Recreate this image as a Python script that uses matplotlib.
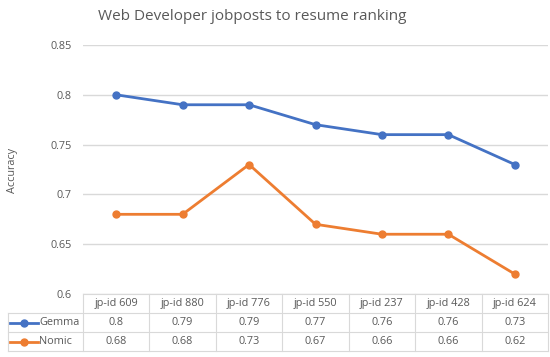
import matplotlib
matplotlib.use("Agg")
import matplotlib.pyplot as plt
from matplotlib.ticker import FuncFormatter
from matplotlib.lines import Line2D

plt.rcParams['font.family'] = ['Open Sans', 'DejaVu Sans']

# data
jobposts = ["jp-id 609", "jp-id 880", "jp-id 776", "jp-id 550", "jp-id 237", "jp-id 428", "jp-id 624"]
gemma = [0.8, 0.79, 0.79, 0.77, 0.76, 0.76, 0.73]
nomic = [0.68, 0.68, 0.73, 0.67, 0.66, 0.66, 0.62]
series_names = ["Gemma", "Nomic"]
yticks = [0.6, 0.65, 0.7, 0.75, 0.8, 0.85]

BLUE = "#4472C4"
ORANGE = "#ED7D31"
GRID = "#D9D9D9"
TXT = "#595959"

W, H = 550, 357
fig = plt.figure(figsize=(W / 100, H / 100), dpi=100)

# plot area in pixels
x0, x1 = 83, 548
ytop, ybot = 45, 294
ax = fig.add_axes([x0 / W, (H - ybot) / H, (x1 - x0) / W, (ybot - ytop) / H])

xs = list(range(len(jobposts)))
ax.plot(xs, gemma, color=BLUE, lw=2.0, marker="o", ms=5, zorder=3)
ax.plot(xs, nomic, color=ORANGE, lw=2.0, marker="o", ms=5, zorder=3)

ax.set_xlim(-0.5, len(jobposts) - 0.5)
ax.set_ylim(0.6, 0.85)
ax.set_yticks(yticks)
ax.yaxis.set_major_formatter(FuncFormatter(lambda v, p: "%g" % round(v, 2)))
ax.set_xticks([])
ax.grid(axis="y", color=GRID, lw=1)
ax.set_axisbelow(True)
for s in ax.spines.values():
    s.set_visible(False)
ax.tick_params(axis="y", length=0, pad=8, labelsize=7.8, labelcolor=TXT)

fig.text(252 / W, 1 - 17 / H, "Web Developer jobposts to resume ranking",
         ha="center", va="center", fontsize=11, color=TXT)
fig.text(12 / W, 1 - 170 / H, "Accuracy", rotation=90, ha="center", va="center",
         fontsize=7.8, color=TXT)

# data table under the plot
tab = fig.add_axes([0, 0, 1, 1])
tab.set_xlim(0, W)
tab.set_ylim(H, 0)
tab.axis("off")

lx = 8
rows_y = [294, 313, 332, 351]
step = (x1 - x0) / len(jobposts)
kw = dict(color=GRID, lw=0.8)
# horizontal lines
tab.plot([x0, x1], [rows_y[0]] * 2, **kw)
for yy in rows_y[1:]:
    tab.plot([lx, x1], [yy] * 2, **kw)
# vertical lines
tab.plot([lx, lx], [rows_y[1], rows_y[3]], **kw)
for i in range(len(jobposts) + 1):
    xx = x0 + i * step
    tab.plot([xx, xx], [rows_y[0], rows_y[3]], **kw)

fs = 7.8
for i, name in enumerate(jobposts):
    cx = x0 + (i + 0.5) * step
    tab.text(cx, (rows_y[0] + rows_y[1]) / 2, name, ha="center", va="center", fontsize=fs, color=TXT)
    tab.text(cx, (rows_y[1] + rows_y[2]) / 2, "%g" % gemma[i], ha="center", va="center", fontsize=fs, color=TXT)
    tab.text(cx, (rows_y[2] + rows_y[3]) / 2, "%g" % nomic[i], ha="center", va="center", fontsize=fs, color=TXT)

for r, (name, col) in enumerate(zip(series_names, [BLUE, ORANGE])):
    yy = (rows_y[r + 1] + rows_y[r + 2]) / 2
    tab.add_line(Line2D([10, 38], [yy, yy], color=col, lw=2.0))
    tab.plot([24], [yy], marker="o", ms=5, color=col)
    tab.text(39, yy, name, ha="left", va="center", fontsize=fs, color=TXT)

fig.savefig("out.png", dpi=100, facecolor="white")
